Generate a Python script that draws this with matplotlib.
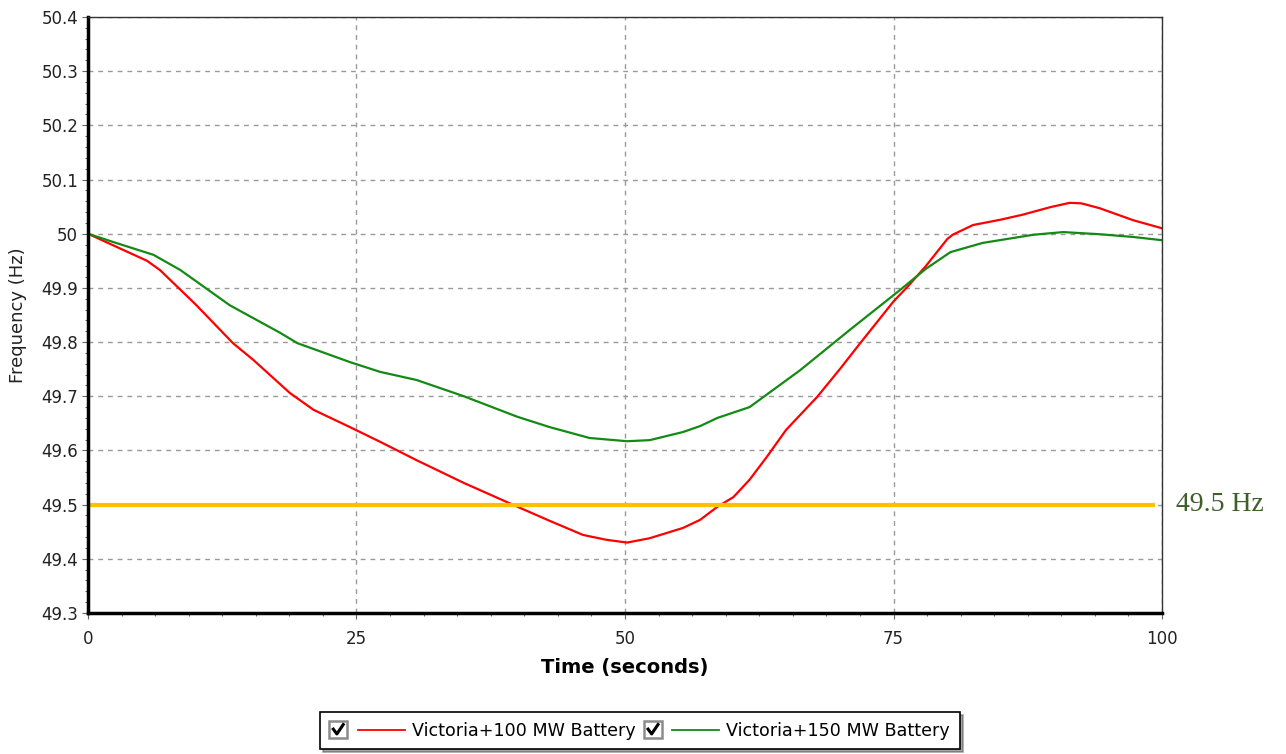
import numpy as np
import matplotlib
matplotlib.use('Agg')
import matplotlib.pyplot as plt
from matplotlib.lines import Line2D
from matplotlib.patches import Rectangle
from matplotlib.legend_handler import HandlerBase
from matplotlib.ticker import MultipleLocator

# Frequency traces (time in s, frequency in Hz)
t_100 = [0, 2.3, 5.5, 6.7, 10, 13.5, 15.4, 18.8, 21, 24.4, 27.2, 30.6, 35, 40, 43,
         46.1, 48.3, 50.2, 52.3, 55.4, 57, 58.6, 60.1, 61.6, 63.2, 65, 67.9, 70,
         71.9, 75, 76.3, 78, 80, 80.5, 82.4, 85, 87, 89.6, 91.4, 92.5, 94.2, 97.3, 100]
f_100 = [50.0, 49.979, 49.95, 49.933, 49.87, 49.798, 49.767, 49.706, 49.675, 49.643,
         49.616, 49.582, 49.54, 49.496, 49.47, 49.444, 49.435, 49.43, 49.438, 49.457,
         49.472, 49.496, 49.514, 49.546, 49.588, 49.638, 49.699, 49.75, 49.798, 49.875,
         49.902, 49.94, 49.99, 49.998, 50.016, 50.026, 50.035, 50.049, 50.057, 50.056,
         50.047, 50.025, 50.01]

t_150 = [0, 2.3, 6.1, 8.6, 13.2, 17.9, 19.5, 24.4, 27.2, 30.6, 35, 40, 43, 46.7,
         50.2, 52.3, 55.4, 57, 58.6, 61.6, 66.3, 70.9, 75.6, 78, 80.3, 83.3, 88,
         90.8, 94.2, 97.3, 100]
f_150 = [50.0, 49.985, 49.961, 49.933, 49.868, 49.817, 49.798, 49.763, 49.745, 49.73,
         49.70, 49.662, 49.643, 49.623, 49.617, 49.619, 49.634, 49.645, 49.66, 49.68,
         49.748, 49.822, 49.896, 49.935, 49.966, 49.983, 49.998, 50.003, 49.999,
         49.994, 49.988]

threshold = 49.5
series_labels = ['Victoria+100 MW Battery', 'Victoria+150 MW Battery']
series_colors = ['#ff0000', '#138a13']
x_ticks = [0, 25, 50, 75, 100]
y_ticks = [49.3, 49.4, 49.5, 49.6, 49.7, 49.8, 49.9, 50.0, 50.1, 50.2, 50.3, 50.4]

plt.rcParams['font.family'] = ['DejaVu Sans']


class CheckLineHandler(HandlerBase):
    # checkbox followed by a short line, like the original legend
    def create_artists(self, legend, orig_handle, xdescent, ydescent,
                       width, height, fontsize, trans):
        s = height * 1.45
        y0 = -ydescent + height / 2 - s / 2
        box = Rectangle((-xdescent, y0), s, s, facecolor='white',
                        edgecolor='#8c8c8c', lw=1.8, transform=trans)
        check = Line2D([-xdescent + s * 0.22, -xdescent + s * 0.42, -xdescent + s * 0.78],
                       [y0 + s * 0.52, y0 + s * 0.25, y0 + s * 0.78],
                       color='black', lw=2.2, transform=trans)
        x1 = -xdescent + s + width * 0.14
        line = Line2D([x1, -xdescent + width], [-ydescent + height / 2] * 2,
                      color=orig_handle.get_color(), lw=1.3, transform=trans)
        return [box, check, line]


fig = plt.figure(figsize=(12.86, 7.54), dpi=100)
ax = fig.add_axes([0.0684, 0.187, 0.8352, 0.7905])

ax.plot(t_100, f_100, color=series_colors[0], lw=1.6, label=series_labels[0])
ax.plot(t_150, f_150, color=series_colors[1], lw=1.6, label=series_labels[1])
ax.plot([0, 99.3], [threshold, threshold], color='#ffc000', lw=3, solid_capstyle='butt')
ax.text(101.3, threshold, '49.5 Hz', family='Liberation Serif', fontsize=20,
        color='#3d5f2a', va='center', ha='left')

ax.set_xlim(0, 100)
ax.set_ylim(49.3, 50.4)
ax.set_xticks(x_ticks)
ax.set_xticklabels([str(v) for v in x_ticks])
ax.set_yticks(y_ticks)
ax.set_yticklabels(['%g' % v for v in y_ticks])
ax.xaxis.set_minor_locator(MultipleLocator(3.125))
ax.yaxis.set_minor_locator(MultipleLocator(0.02))
ax.grid(True, which='major', color='#999999', linestyle=(0, (3.5, 3.5)), lw=1.0)
ax.tick_params(which='major', length=4, width=0.8, color='#666666',
               labelsize=12, labelcolor='#222222')
ax.tick_params(axis='x', which='major', pad=8)
ax.tick_params(axis='y', which='major', pad=3)
ax.tick_params(which='minor', length=2.5, width=0.8, color='#666666')

for s in ['left', 'bottom']:
    ax.spines[s].set_linewidth(2.5)
    ax.spines[s].set_color('black')
for s in ['top', 'right']:
    ax.spines[s].set_linewidth(1.0)
    ax.spines[s].set_color('#333333')

ax.set_xlabel('Time (seconds)', fontsize=14, fontweight='bold')
ax.xaxis.set_label_coords(0.5, -0.075)
ax.set_ylabel('Frequency (Hz)', fontsize=13, color='#222222')
ax.yaxis.set_label_coords(-0.057, 0.5)

handles = [Line2D([], [], color=c) for c in series_colors]
leg = fig.legend(handles, series_labels, loc='center', bbox_to_anchor=(0.4975, 0.031),
                 ncol=2, frameon=True, fancybox=False, shadow=True, fontsize=12.6,
                 handler_map={Line2D: CheckLineHandler()}, handlelength=4.3,
                 columnspacing=0.5, handletextpad=0.4, borderpad=0.55, borderaxespad=0)
leg.get_frame().set_edgecolor('black')
leg.get_frame().set_linewidth(1.2)

fig.savefig('out.png', dpi=100)
